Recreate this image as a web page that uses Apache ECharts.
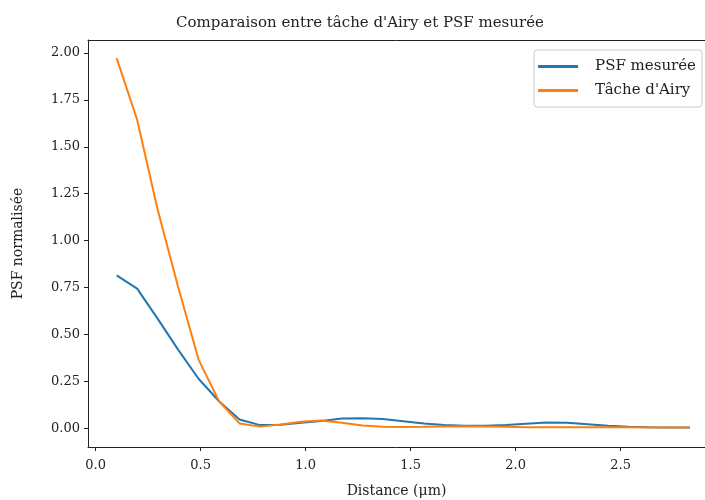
<!DOCTYPE html>
<html>
<head>
<meta charset="utf-8">
<script src="https://cdn.jsdelivr.net/npm/echarts@6/dist/echarts.min.js"></script>
<style>html,body{margin:0;padding:0;background:#fff}#c{width:705px;height:500px}</style>
</head>
<body>
<div id="c"></div>
<script>
const distances = [0.1, 0.1975, 0.295, 0.3925, 0.49, 0.5875, 0.685, 0.7825, 0.88, 0.9775,
  1.075, 1.1725, 1.27, 1.3675, 1.465, 1.5625, 1.66, 1.7575, 1.855, 1.9525,
  2.05, 2.1475, 2.245, 2.3425, 2.44, 2.5375, 2.635, 2.7325, 2.83];
const psfMesuree = [0.815, 0.745, 0.585, 0.42, 0.265, 0.145, 0.048, 0.018, 0.02, 0.03,
  0.04, 0.053, 0.055, 0.05, 0.039, 0.027, 0.018, 0.015, 0.014, 0.018,
  0.025, 0.032, 0.03, 0.023, 0.014, 0.009, 0.006, 0.005, 0.005];
const tacheAiry = [1.972, 1.644, 1.166, 0.755, 0.367, 0.145, 0.027, 0.01, 0.021, 0.036,
  0.042, 0.03, 0.016, 0.009, 0.008, 0.009, 0.011, 0.012, 0.011, 0.009,
  0.007, 0.006, 0.006, 0.007, 0.007, 0.006, 0.005, 0.005, 0.005];
const xTicks = [0, 0.5, 1.0, 1.5, 2.0, 2.5];
const yTicks = [0, 0.25, 0.5, 0.75, 1.0, 1.25, 1.5, 1.75, 2.0];
const seriesNames = ['PSF mesurée', "Tâche d'Airy"];
const titleText = "Comparaison entre tâche d'Airy et PSF mesurée";
const xName = 'Distance (μm)';
const yName = 'PSF normalisée';

const font = 'DejaVu Serif';
const chart = echarts.init(document.getElementById('c'), null, {renderer: 'canvas'});
const pair = (xs, ys) => xs.map((x, i) => [x, ys[i]]);
const XMIN = -0.0365, XMAX = 2.9016;
chart.setOption({
  animation: false,
  backgroundColor: '#fff',
  title: {text: titleText, left: 355, top: 11, textAlign: 'center',
    textStyle: {fontFamily: font, fontSize: 15, fontWeight: 'normal', color: '#222'}},
  grid: {left: 88, right: 0, top: 40, bottom: 53, outerBoundsMode: 'none', containLabel: false},
  legend: {orient: 'vertical', right: 3, top: 50, itemWidth: 40, itemHeight: 3, itemGap: 9,
    padding: [9, 6, 9, 4], borderColor: '#ccc', borderWidth: 1, borderRadius: 3,
    icon: 'rect',
    textStyle: {fontFamily: font, fontSize: 15, color: '#222', padding: [0, 0, 0, 12]},
    data: seriesNames},
  xAxis: [{type: 'value', min: XMIN, max: XMAX,
    name: xName, nameLocation: 'middle', nameGap: 37,
    nameTextStyle: {fontFamily: font, fontSize: 14, color: '#222'},
    splitLine: {show: false},
    axisLine: {show: true, onZero: false, lineStyle: {color: '#222', width: 1}},
    axisTick: {show: true, length: 4, lineStyle: {color: '#222'}, customValues: xTicks},
    axisLabel: {customValues: xTicks, margin: 12, color: '#222', fontFamily: font, fontSize: 13,
      formatter: v => v.toFixed(1)}},
   {type: 'value', position: 'top', min: XMIN, max: XMAX,
    splitLine: {show: false}, axisTick: {show: false}, axisLabel: {show: false},
    axisLine: {show: true, onZero: false, lineStyle: {color: '#222', width: 1}}}],
  yAxis: {type: 'value', min: -0.0985, max: 2.0685,
    name: yName, nameLocation: 'middle', nameGap: 63, nameRotate: 90,
    nameTextStyle: {fontFamily: font, fontSize: 14, color: '#222'},
    splitLine: {show: false},
    axisLine: {show: true, onZero: false, lineStyle: {color: '#222', width: 1}},
    axisTick: {show: true, length: 4, lineStyle: {color: '#222'}, customValues: yTicks},
    axisLabel: {customValues: yTicks, margin: 8, color: '#222', fontFamily: font, fontSize: 13,
      formatter: v => v.toFixed(2)}},
  series: [
    {name: seriesNames[0], type: 'line', data: pair(distances, psfMesuree), showSymbol: false,
      lineStyle: {color: '#1f77b4', width: 2}, itemStyle: {color: '#1f77b4'}},
    {name: seriesNames[1], type: 'line', data: pair(distances, tacheAiry), showSymbol: false,
      lineStyle: {color: '#ff7f0e', width: 2}, itemStyle: {color: '#ff7f0e'}}
  ]
});
</script>
</body>
</html>
